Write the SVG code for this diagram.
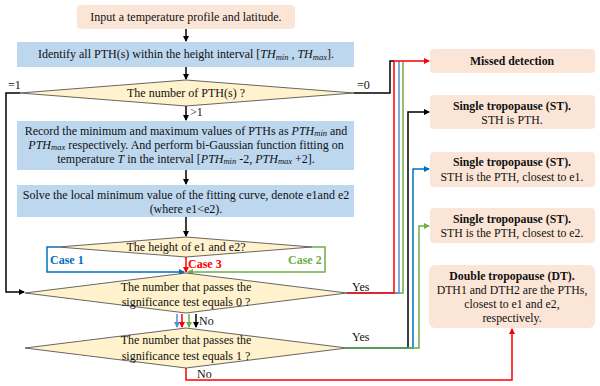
<svg xmlns="http://www.w3.org/2000/svg" width="600" height="386" viewBox="0 0 600 386">
<defs>
<style>
text{font-family:"Liberation Serif","Times New Roman",serif;font-size:12px;fill:#111;}
.c{text-anchor:middle;}
.b{font-weight:bold;}
.i{font-style:italic;}
.rt{font-size:11.8px;}
.peach{fill:#FBE5D6;}
.blue{fill:#BDD7EE;}
.dia{fill:#FFF2CC;stroke:#404040;stroke-width:0.8;}
.ln{fill:none;stroke-width:1.5;}
.k{stroke:#000;}
.r{stroke:#FF0000;}
.bl{stroke:#0070C0;}
.lb{stroke:#5B8BD6;}
.g{stroke:#70AD47;}
</style>
<marker id="ak" markerWidth="6" markerHeight="6" refX="5" refY="3" orient="auto" markerUnits="userSpaceOnUse"><path d="M0,0 L6,3 L0,6 z" fill="#000"/></marker>
<marker id="ar" markerWidth="6" markerHeight="6" refX="5" refY="3" orient="auto" markerUnits="userSpaceOnUse"><path d="M0,0 L6,3 L0,6 z" fill="#FF0000"/></marker>
<marker id="ab" markerWidth="6" markerHeight="6" refX="5" refY="3" orient="auto" markerUnits="userSpaceOnUse"><path d="M0,0 L6,3 L0,6 z" fill="#0070C0"/></marker>
<marker id="alb" markerWidth="6" markerHeight="6" refX="5" refY="3" orient="auto" markerUnits="userSpaceOnUse"><path d="M0,0 L6,3 L0,6 z" fill="#5B8BD6"/></marker>
<marker id="ag" markerWidth="6" markerHeight="6" refX="5" refY="3" orient="auto" markerUnits="userSpaceOnUse"><path d="M0,0 L6,3 L0,6 z" fill="#70AD47"/></marker>
</defs>
<rect width="600" height="386" fill="#fff"/>

<g id="connectors">
<path class="ln k" d="M186,29 V41" marker-end="url(#ak)"/>
<path class="ln k" d="M186,67 V79" marker-end="url(#ak)"/>
<path class="ln k" d="M186,106 V120" marker-end="url(#ak)"/>
<path class="ln k" d="M186,170 V184" marker-end="url(#ak)"/>
<path class="ln k" d="M186,217 V236" marker-end="url(#ak)"/>
<path class="ln k" d="M20,93 H6 V292 H24" marker-end="url(#ak)"/>
<path class="ln bl" d="M58,247 H47 V272 H184" marker-end="url(#ab)"/>
<path class="ln g" d="M312,247 H325 V272 H188" marker-end="url(#ag)"/>
<path class="ln r" d="M186,257 V272" marker-end="url(#ar)"/>
<path class="ln lb" d="M177,314 V327" marker-end="url(#alb)"/>
<path class="ln r" d="M182,314 V327" marker-end="url(#ar)"/>
<path class="ln g" d="M189,314 V327" marker-end="url(#ag)"/>
<path class="ln k" d="M196,314 V327" marker-end="url(#ak)"/>
<path class="ln k" d="M354,93 H390 V61 H394"/>
<path class="ln g" d="M347,293 H403 V61"/>
<path class="ln lb" d="M347,293 H399 V61"/>
<path class="ln r" d="M347,293 H394 V61 H429" marker-end="url(#ar)"/>
<path class="ln k" d="M347,348 H408 V112 H429" marker-end="url(#ak)"/>
<path class="ln bl" d="M347,348 H413 V169 H429" marker-end="url(#ab)"/>
<path class="ln g" d="M347,348 H419 V226 H429" marker-end="url(#ag)"/>
<path class="ln r" d="M186,368 V380 H512 V329" marker-end="url(#ar)"/>
</g>

<g id="labels">
<text x="8" y="89">=1</text>
<text x="357" y="89">=0</text>
<text x="190" y="116">&gt;1</text>
<text x="50" y="264" class="b" style="fill:#0070C0">Case 1</text>
<text x="288" y="264" class="b" style="fill:#70AD47">Case 2</text>
<text x="188" y="268" class="b" style="fill:#FF0000">Case 3</text>
<text x="352" y="291">Yes</text>
<text x="199" y="325">No</text>
<text x="352" y="341">Yes</text>
<text x="197" y="378">No</text>
</g>

<g id="n1"><rect class="peach" x="77" y="5" width="218" height="24" rx="4"/>
<text class="c" x="186" y="21">Input a temperature profile and latitude.</text></g>

<g id="n2"><rect class="blue" x="17" y="42" width="337" height="25"/>
<text class="c" x="186" y="58">Identify all PTH(s) within the height interval [<tspan class="i">TH<tspan font-size="8.5" dy="1.5">min</tspan></tspan><tspan dy="-1.5"> , </tspan><tspan class="i">TH<tspan font-size="8.5" dy="1.5">max</tspan></tspan><tspan dy="-1.5">].</tspan></text></g>

<g id="n3"><polygon class="dia" points="20,93 186,80 354,93 186,106"/>
<text class="c" x="186" y="97">The number of PTH(s) ?</text></g>

<g id="n4"><rect class="blue" x="17" y="121" width="337" height="49"/>
<text class="c" x="186" y="134.5">Record the minimum and maximum values of PTHs as <tspan class="i">PTH<tspan font-size="8.5" dy="1.5">min</tspan></tspan><tspan dy="-1.5"> and</tspan></text>
<text class="c" x="186" y="148.5"><tspan class="i">PTH<tspan font-size="8.5" dy="1.5">max</tspan></tspan><tspan dy="-1.5"> respectively. And perform bi-Gaussian function fitting on</tspan></text>
<text class="c" x="186" y="162.5">temperature <tspan class="i">T</tspan> in the interval [<tspan class="i">PTH<tspan font-size="8.5" dy="1.5">min</tspan></tspan><tspan dy="-1.5"> -2, </tspan><tspan class="i">PTH<tspan font-size="8.5" dy="1.5">max</tspan></tspan><tspan dy="-1.5"> +2].</tspan></text></g>

<g id="n5"><rect class="blue" x="17" y="185" width="337" height="32"/>
<text class="c" x="186" y="199">Solve the local minimum value of the fitting curve, denote e1and e2</text>
<text class="c" x="186" y="213">(where e1&lt;e2).</text></g>

<g id="n6"><polygon class="dia" points="58,247 186,237 312,247 186,257"/>
<text class="c" x="186" y="251">The height of e1 and e2?</text></g>

<g id="n7"><polygon class="dia" points="25,293 186,273 347,293 186,313"/>
<text class="c" x="186" y="291">The number that passes the</text>
<text class="c" x="186" y="306">significance test equals 0 ?</text></g>

<g id="n8"><polygon class="dia" points="25,348 186,328 347,348 186,368"/>
<text class="c" x="186" y="344">The number that passes the</text>
<text class="c" x="186" y="360">significance test equals 1 ?</text></g>

<g id="n9"><rect class="peach" x="430" y="49" width="165" height="24" rx="4"/>
<text class="c b rt" x="512" y="65">Missed detection</text></g>

<g id="n10"><rect class="peach" x="430" y="95" width="165" height="34" rx="4"/>
<text class="c b rt" x="512" y="110">Single tropopause (ST).</text>
<text class="c rt" x="512" y="124">STH is PTH.</text></g>

<g id="n11"><rect class="peach" x="430" y="152" width="165" height="35" rx="4"/>
<text class="c b rt" x="512" y="166">Single tropopause (ST).</text>
<text class="c rt" x="512" y="181">STH is the PTH, closest to e1.</text></g>

<g id="n12"><rect class="peach" x="430" y="208" width="165" height="35" rx="4"/>
<text class="c b rt" x="512" y="223">Single tropopause (ST).</text>
<text class="c rt" x="512" y="237">STH is the PTH, closest to e2.</text></g>

<g id="n13"><rect class="peach" x="429" y="265" width="166" height="63" rx="6"/>
<text class="c b rt" x="512" y="280">Double tropopause (DT).</text>
<text class="c rt" x="512" y="294">DTH1 and DTH2 are the PTHs,</text>
<text class="c rt" x="512" y="308">closest to e1 and e2,</text>
<text class="c rt" x="512" y="322">respectively.</text></g>
</svg>
